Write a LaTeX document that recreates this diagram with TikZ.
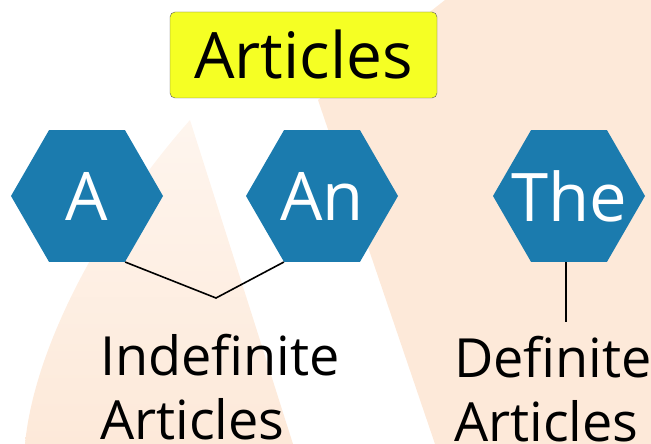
\documentclass[tikz,border=0pt]{standalone}
\usepackage{fontspec}
\setmainfont{Open Sans}
\usetikzlibrary{shapes.geometric, math}
\definecolor{hexblue}{RGB}{27,123,174}
\definecolor{boxyellow}{RGB}{245,255,36}
\definecolor{peach}{RGB}{253,233,217}

\begin{document}
\begin{tikzpicture}[x=1pt, y=-1pt,
  hex/.style={regular polygon, regular polygon sides=6, fill=hexblue,
    minimum size=152pt, inner sep=0pt, text=white,
    font=\fontsize{67}{67}\selectfont},
  lbl/.style={align=left, inner sep=0pt, anchor=base west,
    font=\fontsize{54}{64}\selectfont},
  link/.style={line width=1.6pt}]
\tikzmath{
\H=196;
}
\useasboundingbox (0,0) rectangle (651,444);

\shade[top color=peach!45, bottom color=peach] (190,120) -- (293,444) -- (25,444)
  .. controls (35,340) and (110,210) .. cycle;
\fill[peach] (318,100) -- (445,0) -- (651,0) -- (651,444) -- (435,444) -- cycle;

\node[draw=black!65, fill=boxyellow, rounded corners=5pt, minimum width=267pt,
  minimum height=86pt, font=\fontsize{64}{64}\selectfont] (title) at (303.5,55) {Articles};

\node[hex] (a) at (87,\H) {\makebox[0pt]{A}};
\node[hex] (an) at (322,\H) {\makebox[0pt]{An}};
\node[hex] (the) at (569,\H) {\makebox[0pt]{The}};

\coordinate (vtip) at (216,298);
\draw[link] (a.corner 5) -- (vtip) -- (an.corner 4);
\draw[link] ([xshift=-3pt]the.south) -- ++(0,60) coordinate (dtip);

\node[lbl] (indef) at (100,439) {Indefinite\\Articles};
\node[lbl] (def) at (454,441) {Definite\\Articles};

\end{tikzpicture}
\end{document}
